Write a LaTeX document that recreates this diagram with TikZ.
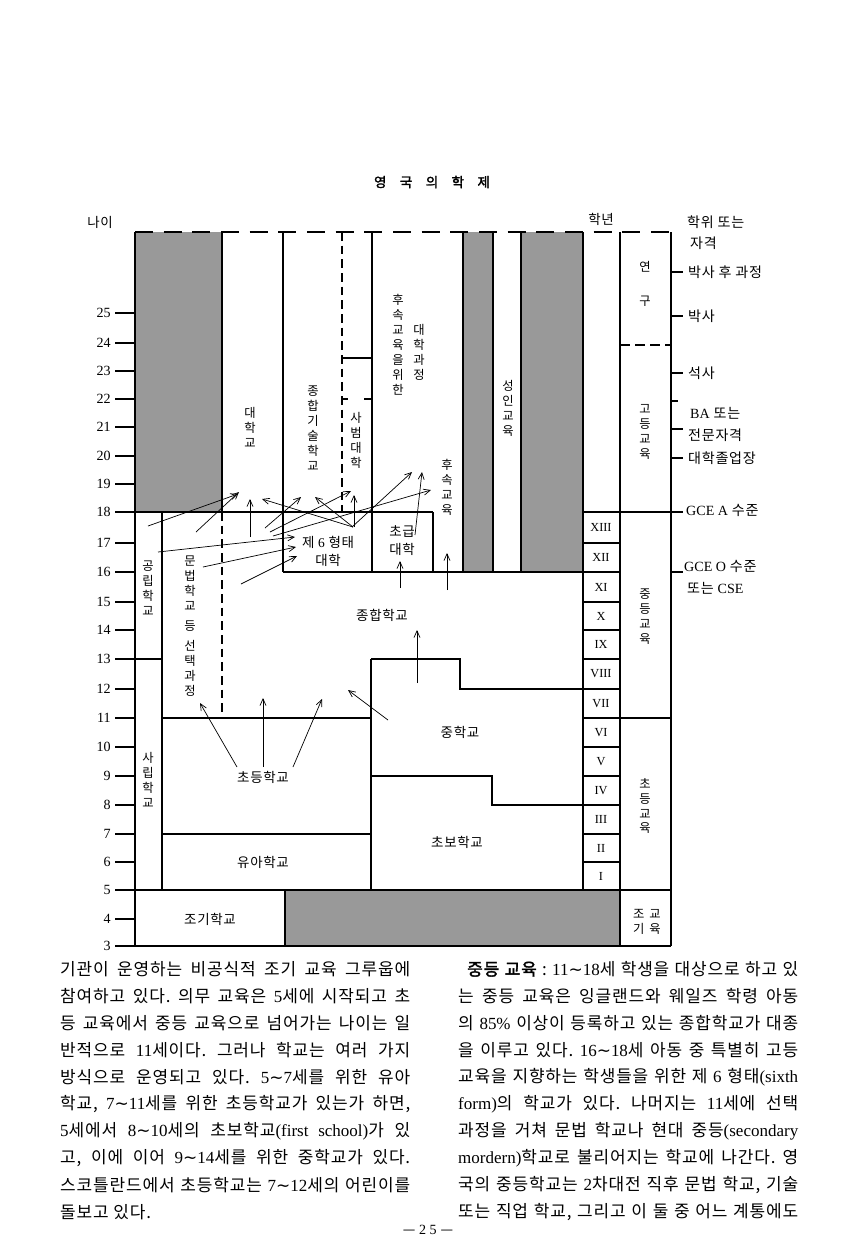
\documentclass[tikz,border=0pt]{standalone}
\usepackage{fontspec}
\setmainfont[LetterSpace=5]{Noto Sans CJK KR}
\newfontfamily\lat{Liberation Serif}
\newfontfamily\sym{DejaVu Sans}
\newfontfamily\krbold[FakeBold=2, LetterSpace=5]{Noto Sans CJK KR}
\usetikzlibrary{arrows.meta}
\newcommand{\la}[1]{{\lat #1}}
\newcommand{\wv}{{\sym\char"223C}}

\begin{document}
\frenchspacing
\begin{tikzpicture}[x=0.3mm, y=-0.3mm,
    wall/.style={line width=1.1pt},
    dashline/.style={line width=1.1pt, dash pattern=on 2.6mm off 1.5mm},
    screen/.style={fill=black!40},
    arr/.style={-{Straight Barb[length=2mm, width=1.8mm]}, line width=0.6pt},
    lab/.style={font=\fontsize{11.5}{14}\selectfont, align=center, inner sep=0pt},
    rlab/.style={font=\fontsize{12}{14}\selectfont, anchor=west, inner sep=0pt},
    vlab/.style={font=\fontsize{10.5}{12.8}\selectfont, align=center, inner sep=0pt},
    num/.style={font=\lat\fontsize{12}{14}\selectfont, inner sep=0pt},
    roman/.style={font=\lat\fontsize{10.5}{12}\selectfont, inner sep=0pt},
    body/.style={font=\fontsize{14.5}{16}\selectfont, anchor=west, inner sep=0pt}
]
\useasboundingbox (0,0) rectangle (866,1254);

% Headings
\node[lab, font=\krbold\fontsize{11.5}{13}\selectfont] (title) at (432,182)
    {영\quad 국\quad 의\quad 학\quad 제};
\node[lab] (agehead) at (100,222) {나이};
\node[lab] (gradehead) at (601,219) {학년};

% Screened areas
\fill[screen] (135,232) rectangle (222,512);
\fill[screen] (463,232) rectangle (493,572);
\fill[screen] (521,232) rectangle (583,572);
\fill[screen] (285,890) rectangle (620,946);

% Upper part: higher education columns
\draw[wall, dash pattern=on 5.4mm off 3.2mm] (135,232) -- (671,232);
\draw[wall] (135,232) -- (135,946);
\draw[wall] (222,232) -- (222,512);
\draw[wall] (283,232) -- (283,572);
\draw[dashline] (342,232) -- (342,512);
\draw[wall] (342,358) -- (372,358);
\draw[wall] (342,399) -- (348,399);
\draw[wall] (364,399) -- (372,399);
\draw[wall] (372,232) -- (372,572);
\draw[wall] (463,232) -- (463,572);
\draw[wall] (493,232) -- (493,572);
\draw[wall] (521,232) -- (521,572);
\draw[wall] (583,232) -- (583,890);
\draw[wall] (620,232) -- (620,946);
\draw[wall] (671,232) -- (671,946);
\draw[wall, dash pattern=on 3mm off 1.5mm] (620,345) -- (671,345);
\draw[wall] (620,718) -- (671,718);

% Age 18 and age 16 lines
\draw[wall] (115,512) -- (433,512);
\draw[wall] (583,512) -- (683,512);
\draw[wall] (433,512) -- (433,572);
\draw[wall] (283,572) -- (583,572);

% Lower part: schools
\draw[wall] (162,512) -- (162,890);
\draw[wall] (135,659) -- (162,659);
\draw[dashline] (222,512) -- (222,718);
\draw[wall] (162,718) -- (371,718);
\draw[wall] (162,834) -- (371,834);
\draw[wall] (371,659) -- (460,659) -- (460,689) -- (583,689);
\draw[wall] (371,659) -- (371,890);
\draw[wall] (371,776) -- (492,776) -- (492,805) -- (583,805);
\draw[wall] (115,890) -- (671,890);
\draw[wall] (115,946) -- (671,946);
\draw[wall] (285,890) -- (285,946);

% Age axis
\foreach \a/\y in {25/313, 24/343, 23/371, 22/399, 21/427, 20/456, 19/484,
    18/512, 17/543, 16/572, 15/602, 14/630, 13/659, 12/689, 11/718,
    10/747, 9/776, 8/805, 7/834, 6/862, 5/890, 4/919, 3/946} {
  \draw[wall] (115,\y) -- (135,\y);
  \node[num, anchor=east] (age\a) at (111,\y) {\a};
}

% Grades
\foreach \t/\b/\r in {512/543/XIII, 543/572/XII, 572/602/XI, 602/630/X,
    630/659/IX, 659/689/VIII, 689/718/VII, 718/747/VI, 747/776/V,
    776/805/IV, 805/834/III, 834/862/II, 862/890/I} {
  \draw[wall] (583,\t) rectangle (620,\b);
  \node[roman] (g\r) at (601,{(\t+\b)/2}) {\r};
}

% Degree ticks
\foreach \y in {272,316,373,429,458,572}
  \draw[wall] (671,\y) -- (683,\y);
\draw[wall] (671,401) -- (678,401);

% Vertical labels
\node[vlab] (univ) at (250,427) {대\\학\\교};
\node[vlab] (poly) at (313,428) {종\\합\\기\\술\\학\\교};
\node[vlab] (teach) at (356,440) {사\\범\\대\\학};
\node[vlab] (furthfor) at (398,345) {후\\속\\교\\육\\을\\위\\한};
\node[vlab] (course) at (419,352) {대\\학\\과\\정};
\node[vlab] (furth) at (447,487) {후\\속\\교\\육};
\node[vlab] (adult) at (508,408) {성\\인\\교\\육};
\node[vlab] (research) at (645,284) {연\\[5.5mm]구};
\node[vlab] (higher) at (645,432) {고\\등\\교\\육};
\node[vlab] (second) at (645,617) {중\\등\\교\\육};
\node[vlab] (primary) at (645,806) {초\\등\\교\\육};
\node[vlab] (early) at (647,922) {조\hspace{0.4em}교\\기\hspace{0.4em}육};
\node[vlab] (public) at (148,588) {공\\립\\학\\교};
\node[vlab] (private) at (148,780) {사\\립\\학\\교};
\node[vlab] (grammar) at (190,626)
    {문\\법\\학\\교\\[1.5mm]등\\[1.5mm]선\\택\\과\\정};

% School labels
\node[lab] (sixth) at (328,551) {제 \la{6} 형태\\[0.5mm]대학};
\node[lab] (junior) at (402,541) {초급\\[0.5mm]대학};
\node[lab] (compr) at (382,615) {종합학교};
\node[lab] (middle) at (460,732) {중학교};
\node[lab] (firstsch) at (457,842) {초보학교};
\node[lab] (prim) at (263,777) {초등학교};
\node[lab] (infant) at (263,862) {유아학교};
\node[lab] (nursery) at (210,919) {조기학교};

% Degrees and qualifications
\node[rlab] (deg) at (687,222) {학위 또는};
\node[rlab] (deg2) at (690,243) {자격};
\node[rlab] (postdoc) at (688,272) {박사 후 과정};
\node[rlab] (phd) at (688,316) {박사};
\node[rlab] (master) at (688,373) {석사};
\node[rlab] (ba) at (690,413) {\la{BA} 또는};
\node[rlab] (prof) at (688,435) {전문자격};
\node[rlab] (dipl) at (688,458) {대학졸업장};
\node[rlab] (alevel) at (686,510) {\la{GCE A} 수준};
\node[rlab] (olevel) at (684,566) {\la{GCE O} 수준};
\node[rlab] (cse) at (687,588) {또는 \la{CSE}};

% Arrows between schools
\foreach \n/\tx/\ty/\hx/\hy in {1/148/526/238/494, 2/196/532/239/492,
    3/250/537/250/499, 4/353/527/262/499, 5/265/528/301/497,
    6/353/527/315/497, 7/270/532/351/491, 8/354/527/354/495,
    9/273/536/431/490, 10/352/527/412/472, 11/415/535/422/472,
    12/158/552/295/537, 13/203/567/296/547, 14/241/584/297/556,
    15/400/588/400/561, 16/447/590/447/553, 17/417/683/417/630,
    18/388/720/348/690, 19/237/767/200/703, 20/263/767/263/698,
    21/293/767/322/699} {
  \coordinate (t\n) at (\tx,\ty);
  \coordinate (h\n) at (\hx,\hy);
  \draw[arr] (t\n) -- (h\n);
}

% Text below the chart
\node[body] (l1) at (60,969) {\makebox[105mm][s]{기관이 운영하는 비공식적 조기 교육 그루웁에}};
\node[body] (l2) at (60,996) {\makebox[105mm][s]{참여하고 있다. 의무 교육은 \la{5}세에 시작되고 초}};
\node[body] (l3) at (60,1023) {\makebox[105mm][s]{등 교육에서 중등 교육으로 넘어가는 나이는 일}};
\node[body] (l4) at (60,1050) {\makebox[105mm][s]{반적으로 \la{11}세이다. 그러나 학교는 여러 가지}};
\node[body] (l5) at (60,1077) {\makebox[105mm][s]{방식으로 운영되고 있다. \la{5}\wv\la{7}세를 위한 유아}};
\node[body] (l6) at (60,1104) {\makebox[105mm][s]{학교, \la{7}\wv\la{11}세를 위한 초등학교가 있는가 하면,}};
\node[body] (l7) at (60,1131) {\makebox[105mm][s]{\la{5}세에서 \la{8}\wv\la{10}세의 초보학교\la{(first school)}가 있}};
\node[body] (l8) at (60,1158) {\makebox[105mm][s]{고, 이에 이어 \la{9}\wv\la{14}세를 위한 중학교가 있다.}};
\node[body] (l9) at (60,1185) {\makebox[105mm][s]{스코틀란드에서 초등학교는 \la{7}\wv\la{12}세의 어린이를}};
\node[body] (l10) at (60,1212) {돌보고 있다.};

\node[body] (r1) at (467,969) {\makebox[99.3mm][s]{{\krbold 중등 교육} : \la{11}\wv\la{18}세 학생을 대상으로 하고 있}};
\node[body] (r2) at (458,996) {\makebox[102mm][s]{는 중등 교육은 잉글랜드와 웨일즈 학령 아동}};
\node[body] (r3) at (458,1023) {\makebox[102mm][s]{의 \la{85\%} 이상이 등록하고 있는 종합학교가 대종}};
\node[body] (r4) at (458,1050) {\makebox[102mm][s]{을 이루고 있다. \la{16}\wv\la{18}세 아동 중 특별히 고등}};
\node[body] (r5) at (458,1077) {\makebox[102mm][s]{교육을 지향하는 학생들을 위한 제 \la{6} 형태\la{(sixth}}};
\node[body] (r6) at (458,1104) {\makebox[102mm][s]{\la{form)}의 학교가 있다. 나머지는 \la{11}세에 선택}};
\node[body] (r7) at (458,1131) {\makebox[102mm][s]{과정을 거쳐 문법 학교나 현대 중등\la{(secondary}}};
\node[body] (r8) at (458,1158) {\makebox[102mm][s]{\la{mordern)}학교로 불리어지는 학교에 나간다. 영}};
\node[body] (r9) at (458,1185) {\makebox[102mm][s]{국의 중등학교는 \la{2}차대전 직후 문법 학교, 기술}};
\node[body] (r10) at (458,1212) {\makebox[102mm][s]{또는 직업 학교, 그리고 이 둘 중 어느 계통에도}};

% Page number
\node[lab, font=\fontsize{12}{14}\selectfont] (page) at (428,1230) {— \la{2 5} —};

\end{tikzpicture}
\end{document}
